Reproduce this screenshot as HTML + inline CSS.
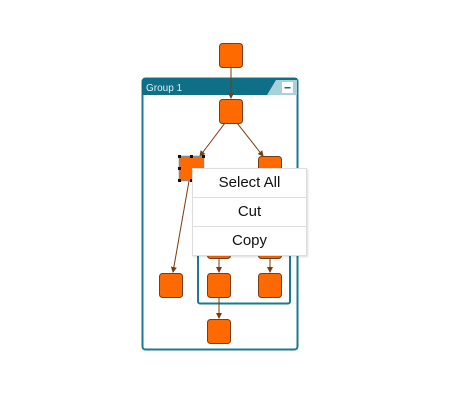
<!DOCTYPE html>
<html><head><style>
html,body{margin:0;padding:0;background:#fff;width:460px;height:400px;overflow:hidden}
.menu{position:absolute;left:192px;top:168px;width:113px;background:#fff;border:1px solid #ddd;box-shadow:1px 1px 2px rgba(0,0,0,.15);font-family:"Liberation Sans",sans-serif;font-size:15px;color:#111}
.menu div{height:28px;line-height:28px;text-align:center;border-bottom:1px solid #ddd}
.menu div:last-child{border-bottom:none}
</style></head><body>
<svg width="460" height="400" style="position:absolute;left:0;top:0" xmlns="http://www.w3.org/2000/svg">
<defs><marker id="a" markerWidth="6" markerHeight="6" refX="5" refY="3" orient="auto"><path d="M0,0L6,3L0,6z" fill="#7a3b10"/></marker></defs>
<rect x="142.5" y="78.5" width="155" height="271" rx="3" fill="#fff" stroke="#1a7a92" stroke-width="2"/>
<path d="M142,81a3,3 0 0 1 3,-3H297V95H142z" fill="#0f6f87"/>
<path d="M267,95L276,80H297V95z" fill="#a9d1dc"/>
<rect x="282" y="82" width="11" height="11" fill="#fff"/>
<rect x="284.5" y="87" width="6" height="1.5" fill="#0f6f87"/>
<text x="146" y="91" font-family="Liberation Sans,sans-serif" font-size="10" fill="#dfeff4">Group 1</text>
<rect x="198" y="210" width="92" height="93.5" rx="2" fill="none" stroke="#1a7a92" stroke-width="2"/>
<g stroke="#7a3b10" stroke-width="1" fill="none" marker-end="url(#a)">
<line x1="231" y1="67" x2="231" y2="98"/>
<line x1="225" y1="123" x2="200" y2="156"/>
<line x1="237" y1="123" x2="263" y2="156"/>
<line x1="189" y1="181" x2="173" y2="272"/>
<line x1="219" y1="258" x2="219" y2="272"/>
<line x1="270" y1="258" x2="270" y2="272"/>
<line x1="219" y1="297" x2="219" y2="318"/>
</g>
<g fill="#ff6a00" stroke="#7a3b10" stroke-width="1">
<rect x="219.5" y="43.5" width="23" height="24" rx="3"/>
<rect x="219.5" y="99.5" width="23" height="24" rx="3"/>
<rect x="258.5" y="156.5" width="23" height="24" rx="3"/>
<rect x="207.5" y="234.5" width="23" height="24" rx="3"/>
<rect x="258.5" y="234.5" width="23" height="24" rx="3"/>
<rect x="159.5" y="273.5" width="23" height="24" rx="3"/>
<rect x="207.5" y="273.5" width="23" height="24" rx="3"/>
<rect x="258.5" y="273.5" width="23" height="24" rx="3"/>
<rect x="207.5" y="319.5" width="23" height="24" rx="3"/>
</g>
<rect x="179.5" y="156.5" width="24" height="24" fill="#ff6a00" stroke="#888" stroke-width="1.5"/>
<g fill="#111">
<rect x="178" y="155" width="3" height="3"/><rect x="190" y="155" width="3" height="3"/><rect x="202" y="155" width="3" height="3"/>
<rect x="178" y="167" width="3" height="3"/><rect x="178" y="179" width="3" height="3"/><rect x="190" y="179" width="3" height="3"/>
</g>
</svg>
<div class="menu"><div>Select All</div><div>Cut</div><div>Copy</div></div>
</body></html>
